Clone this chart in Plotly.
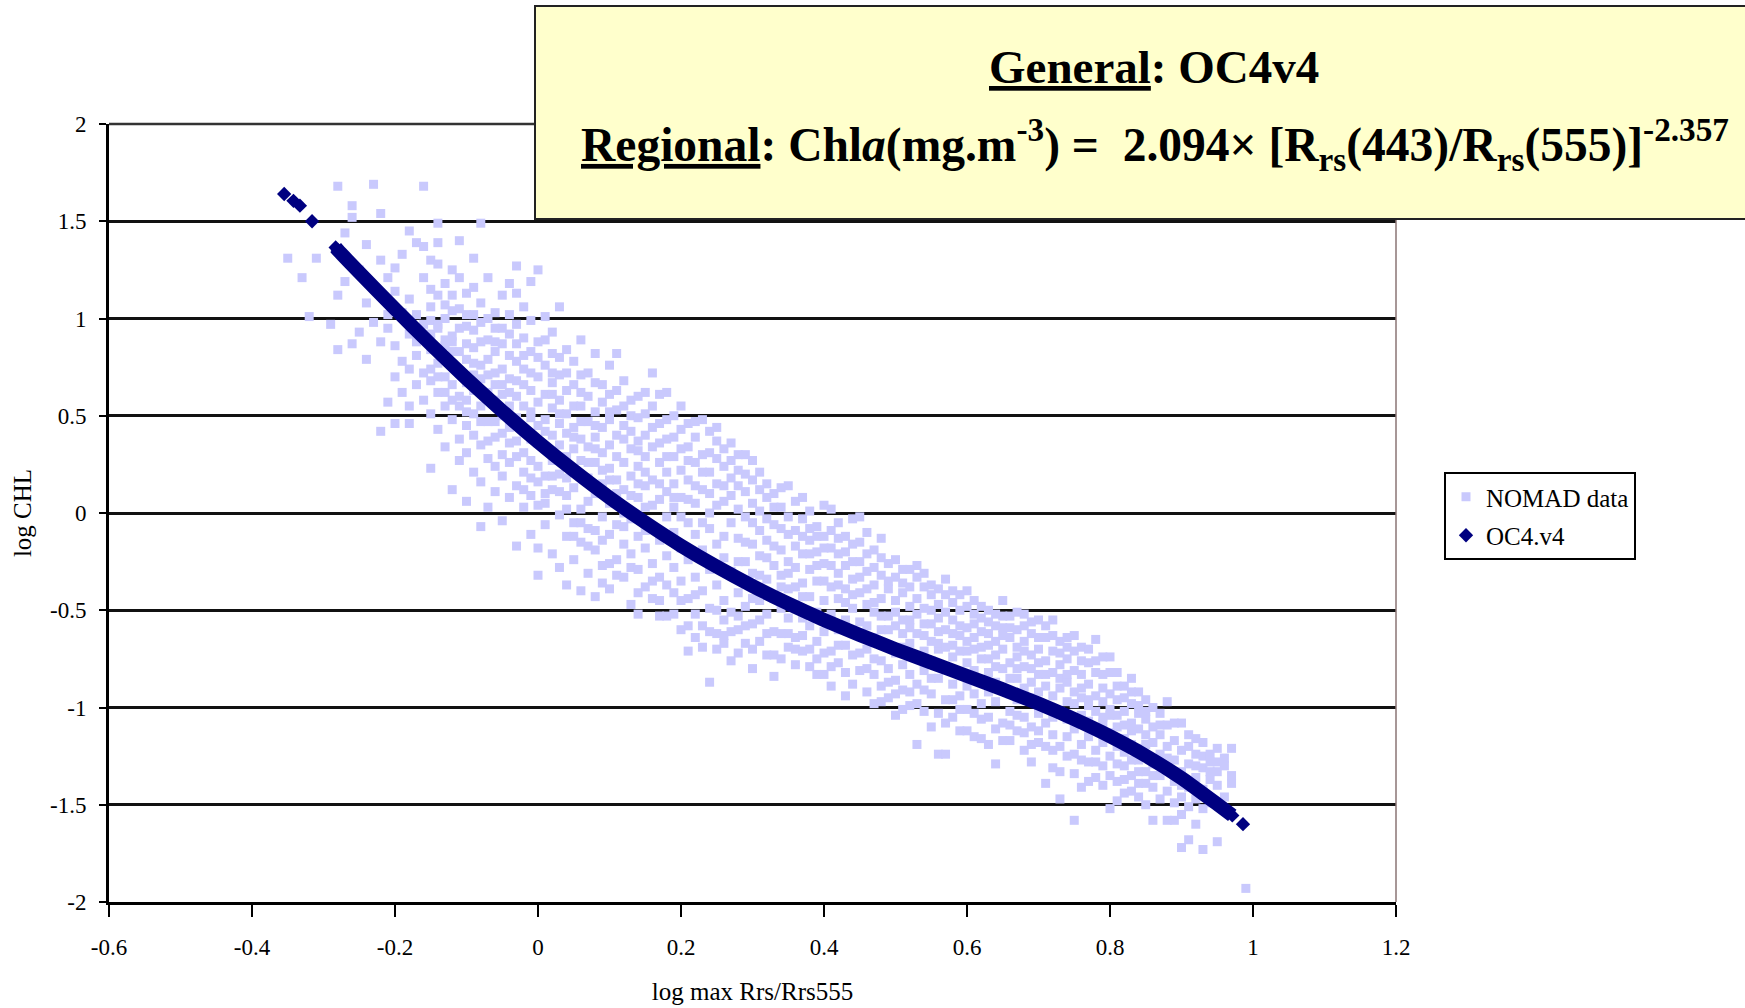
import plotly.graph_objects as go

# ---------------- data ----------------
# OC4.v4 model curve (log max Rrs/Rrs555 -> log CHL)
oc4_x = [-0.355, -0.342, -0.333, -0.316, -0.283, -0.28, -0.25, -0.20, -0.15, -0.10, -0.05,
         0.00, 0.05, 0.10, 0.15, 0.20, 0.25, 0.30, 0.35, 0.40, 0.45, 0.50, 0.55, 0.60,
         0.65, 0.70, 0.75, 0.80, 0.85, 0.90, 0.95, 0.971, 0.986]
oc4_y = [1.64, 1.605, 1.58, 1.50, 1.365, 1.352, 1.237, 1.049, 0.867, 0.691, 0.524,
         0.366, 0.218, 0.079, -0.049, -0.168, -0.276, -0.375, -0.466, -0.550, -0.627, -0.700, -0.769, -0.838,
         -0.907, -0.980, -1.060, -1.148, -1.248, -1.363, -1.497, -1.555, -1.600]
band_start, band_end = 4, 31   # continuous part of the OC4 curve (indices)

# NOMAD data: x columns and the log CHL values observed in each column
nomad_x_cols = [-0.36, -0.35, -0.34, -0.33, -0.32, -0.31, -0.30, -0.29, -0.28, -0.27,
                -0.26, -0.25, -0.24, -0.23, -0.22, -0.21, -0.20, -0.19, -0.18, -0.17,
                -0.16, -0.15, -0.14, -0.13, -0.12, -0.11, -0.10, -0.09, -0.08, -0.07,
                -0.06, -0.05, -0.04, -0.03, -0.02, -0.01, 0.00, 0.01, 0.02, 0.03,
                0.04, 0.05, 0.06, 0.07, 0.08, 0.09, 0.10, 0.11, 0.12, 0.13,
                0.14, 0.15, 0.16, 0.17, 0.18, 0.19, 0.20, 0.21, 0.22, 0.23,
                0.24, 0.25, 0.26, 0.27, 0.28, 0.29, 0.30, 0.31, 0.32, 0.33,
                0.34, 0.35, 0.36, 0.37, 0.38, 0.39, 0.40, 0.41, 0.42, 0.43,
                0.44, 0.45, 0.46, 0.47, 0.48, 0.49, 0.50, 0.51, 0.52, 0.53,
                0.54, 0.55, 0.56, 0.57, 0.58, 0.59, 0.60, 0.61, 0.62, 0.63,
                0.64, 0.65, 0.66, 0.67, 0.68, 0.69, 0.70, 0.71, 0.72, 0.73,
                0.74, 0.75, 0.76, 0.77, 0.78, 0.79, 0.80, 0.81, 0.82, 0.83,
                0.84, 0.85, 0.86, 0.87, 0.88, 0.89, 0.90, 0.91, 0.92, 0.93,
                0.94, 0.95, 0.96, 0.97, 0.98, 0.99]
nomad_y_cols = [
    [], [1.31], [], [1.21], [1.01], [1.31], [], [0.97], [1.68, 1.12, 0.84], [1.19, 1.44],
    [1.58, 0.87, 1.52], [0.93, 1.25], [1.38, 0.79, 1.08], [1.69, 1.16, 0.98],
    [1.54, 0.42, 1.30, 0.88], [0.57, 1.21, 0.95, 1.02], [0.70, 0.46, 1.14, 0.86, 1.26],
    [1.03, 0.78, 0.62, 1.33], [1.45, 0.55, 0.46, 0.92, 1.10, 0.74], [1.39, 0.88, 0.66, 1.02, 0.81],
    [1.37, 1.68, 0.97, 0.72, 0.58, 1.21],
    [1.30, 0.84, 0.51, 0.23, 1.06, 0.68, 0.92, 0.99, 0.74, 1.15],
    [1.39, 1.49, 0.77, 0.62, 1.12, 0.43, 0.97, 0.95, 0.70, 1.28],
    [1.18, 0.89, 0.55, 0.34, 1.00, 0.70, 1.07, 0.62, 0.86],
    [0.12, 0.48, 0.83, 1.25, 0.66, 1.04, 0.91, 0.88, 0.58, 1.12],
    [1.40, 1.21, 0.60, 0.38, 0.95, 0.73, 0.27, 0.83, 0.55, 1.05],
    [0.06, 0.52, 0.87, 1.13, 0.45, 0.79, 1.02, 0.31, 0.96, 0.58, 0.67],
    [1.31, 1.16, 0.63, 0.40, 0.21, 0.94, 0.71, 0.85, 0.77, 0.51, 1.02],
    [1.49, -0.07, 0.55, 0.98, 0.35, 0.76, 1.08, 0.16, 0.88, 0.47, 0.69],
    [0.62, 0.28, 0.89, 1.21, 0.47, 0.03, 0.71, 1.00, 0.37, 0.79],
    [0.58, 0.83, 0.11, 0.39, 1.03, 0.66, 0.24, 0.95, 0.72, 0.47, 0.88],
    [0.74, 0.30, 1.12, 0.50, -0.04, 0.87, 0.19, 0.61, 0.95, 0.41, 0.66],
    [0.44, 0.92, 0.08, 0.69, 1.18, 0.26, 0.55, 0.81, 0.36, 0.62, 1.02],
    [1.27, 1.13, 0.37, 0.60, -0.17, 0.14, 0.78, 0.49, 0.97, 0.68, 0.29, 0.87],
    [0.21, 0.66, 0.90, 0.03, 0.42, 1.06, 0.74, 0.31, 0.55, 0.12, 0.81],
    [1.19, 0.52, -0.11, 0.27, 0.83, 0.09, 0.63, 0.38, 0.99, 0.72, 0.18, 0.49],
    [1.25, 0.88, -0.18, 0.16, 0.45, 0.70, -0.32, 0.57, 0.24, 0.36, 0.80, 0.04],
    [0.05, 0.33, 0.76, 1.01, 0.48, -0.06, 0.61, 0.19, 0.89, 0.42, 0.10],
    [0.93, 0.12, 0.40, -0.21, 0.67, 0.27, 0.82, 0.54, 0.61, 0.19, 0.72],
    [1.06, 0.71, -0.01, 0.35, 0.20, -0.28, 0.58, 0.46, 0.11, 0.80, 0.51],
    [0.84, 0.09, 0.51, -0.37, 0.29, 0.63, -0.12, 0.41, 0.18, 0.72, 0.02],
    [0.78, 0.22, -0.05, 0.44, 0.66, -0.24, 0.33, 0.13, 0.55, -0.12, 0.39],
    [0.89, 0.55, 0.02, -0.40, 0.27, 0.38, -0.15, 0.71, 0.47, -0.05, 0.62],
    [0.47, 0.18, -0.31, 0.60, -0.08, 0.34, 0.06, 0.72, 0.26, -0.17],
    [0.82, 0.26, -0.43, 0.52, 0.10, -0.19, 0.39, 0.67, 0.33, -0.09, 0.45],
    [0.57, -0.02, 0.31, -0.27, 0.15, 0.44, -0.36, 0.66, 0.22, -0.14],
    [0.76, 0.23, -0.39, 0.48, -0.11, 0.05, 0.35, 0.61, 0.17, -0.26, 0.52],
    [0.82, 0.40, -0.06, 0.17, -0.24, 0.53, 0.29, 0.63, 0.10, -0.32],
    [0.12, -0.33, 0.45, -0.16, 0.26, 0.68, 0.00, 0.38, -0.07, 0.55],
    [0.58, 0.33, -0.47, -0.03, 0.19, -0.21, 0.42, 0.50, 0.09, -0.28],
    [0.60, -0.52, 0.08, 0.37, -0.29, -0.12, 0.24, 0.49, 0.15, -0.41, 0.32],
    [0.29, -0.38, 0.51, 0.03, -0.18, 0.14, 0.40, 0.62, -0.09, 0.21],
    [0.72, 0.17, -0.44, -0.08, 0.34, -0.26, 0.55, 0.44, 0.04, -0.35],
    [0.46, -0.14, 0.07, -0.53, 0.26, -0.33, 0.61, 0.36, -0.45, 0.15],
    [0.62, 0.21, -0.53, -0.02, 0.38, -0.22, 0.11, 0.29, -0.37, 0.48],
    [0.50, -0.41, 0.03, -0.28, 0.29, 0.15, -0.10, 0.39, -0.52, 0.08],
    [0.43, -0.60, 0.08, -0.35, 0.22, -0.18, 0.55, 0.33, -0.45, -0.02],
    [-0.71, 0.34, -0.05, -0.44, 0.17, -0.24, 0.46, 0.07, -0.58, 0.27],
    [0.26, -0.52, 0.39, -0.11, -0.33, 0.05, -0.64, 0.14, -0.42, 0.47],
    [0.48, -0.19, 0.12, -0.58, 0.30, -0.40, 0.21, -0.69, -0.05],
    [-0.87, 0.42, -0.29, 0.00, -0.49, 0.21, -0.08, 0.31, -0.61, 0.10],
    [0.37, -0.62, 0.15, -0.37, 0.28, -0.16, -0.70, 0.04, -0.50, 0.44],
    [-0.67, 0.24, -0.45, 0.06, -0.23, 0.33, -0.55, 0.14, -0.12, -0.63],
    [0.18, -0.30, -0.76, 0.09, -0.51, 0.27, 0.36, -0.05, -0.61],
    [0.30, -0.13, -0.60, 0.02, -0.41, 0.14, -0.72, -0.25, 0.22, -0.53],
    [-0.67, 0.20, -0.25, -0.48, -0.02, 0.11, -0.36, 0.30, -0.15, -0.58],
    [0.27, -0.57, 0.05, -0.31, -0.80, -0.16, 0.17, -0.05, -0.44, -0.70],
    [-0.09, -0.45, 0.12, -0.66, -0.22, 0.21, 0.01, -0.32, -0.55],
    [0.08, -0.73, -0.34, -0.14, -0.52, 0.15, -0.03, -0.62, -0.23],
    [-0.84, -0.27, -0.06, -0.61, 0.10, -0.44, -0.17, -0.73, 0.03],
    [0.03, -0.49, -0.19, -0.75, -0.32, 0.13, -0.08, -0.62, -0.38],
    [0.14, -0.39, -0.62, -0.11, -0.25, -0.69, -0.02, -0.54, -0.31],
    [-0.64, 0.06, -0.28, -0.47, -0.17, -0.78, -0.09, -0.38, -0.70],
    [0.08, -0.54, -0.21, -0.71, -0.36, -0.03, -0.12, -0.63, -0.43],
    [-0.79, -0.14, -0.43, -0.58, -0.29, 0.01, -0.21, -0.70, -0.08],
    [-0.07, -0.66, -0.35, -0.51, -0.20, -0.83, -0.27, -0.75, -0.12],
    [0.04, -0.83, -0.26, -0.45, -0.61, -0.12, -0.18, -0.72, -0.35],
    [-0.18, -0.71, -0.38, -0.52, 0.02, -0.89, -0.09, -0.27, -0.79],
    [-0.05, -0.60, -0.31, -0.77, -0.44, -0.21, -0.13, -0.68, -0.37],
    [-0.94, -0.27, -0.55, -0.12, -0.68, -0.39, -0.20, -0.82, -0.46],
    [-0.88, -0.16, -0.49, -0.73, -0.34, -0.03, -0.25, -0.61, -0.42],
    [-0.02, -0.62, -0.41, -0.81, -0.25, -0.56, -0.15, -0.72, -0.33],
    [-0.10, -0.70, -0.30, -0.92, -0.47, -0.58, -0.21, -0.80, -0.39],
    [-0.37, -0.83, -0.19, -0.64, -0.51, -0.98, -0.28, -0.75, -0.46],
    [-0.23, -0.76, -0.44, -0.60, -0.89, -0.32, -0.13, -0.53, -0.97],
    [-0.26, -0.68, -0.53, -0.95, -0.39, -0.80, -0.35, -0.60, -0.87],
    [-0.33, -1.04, -0.58, -0.72, -0.45, -0.86, -0.24, -0.51, -0.93],
    [-0.41, -0.62, -0.91, -0.78, -0.36, -0.55, -0.29, -0.69, -1.01],
    [-0.29, -0.99, -0.67, -0.48, -0.83, -0.59, -0.38, -0.92, -0.55],
    [-1.19, -0.33, -0.74, -0.52, -0.88, -0.44, -0.27, -0.62, -0.98],
    [-0.38, -0.81, -0.63, -1.02, -0.49, -0.71, -0.31, -0.57, -0.91],
    [-0.42, -0.93, -0.57, -0.76, -0.66, -1.10, -0.50, -0.85, -0.37],
    [-0.47, -0.70, -1.24, -0.85, -0.54, -0.61, -0.39, -1.03, -0.67],
    [-0.42, -0.96, -0.60, -0.79, -0.51, -1.24, -0.34, -0.69, -1.08],
    [-0.55, -0.88, -0.68, -1.05, -0.46, -0.74, -0.40, -0.62, -0.96],
    [-0.63, -1.12, -0.50, -0.83, -0.71, -0.94, -0.42, -1.01, -0.58],
    [-0.48, -0.77, -1.01, -0.59, -0.89, -0.66, -0.40, -0.71, -1.12],
    [-0.57, -0.93, -0.70, -1.15, -0.81, -0.52, -0.45, -0.64, -1.03],
    [-0.61, -1.06, -0.75, -0.86, -0.54, -0.98, -0.48, -0.69, -1.16],
    [-0.50, -0.82, -1.19, -0.68, -0.92, -0.62, -0.56, -0.75, -1.05],
    [-0.73, -1.29, -0.58, -0.97, -0.87, -0.66, -0.52, -0.79, -1.11],
    [-0.59, -0.91, -0.70, -1.08, -0.80, -0.53, -0.63, -1.17, -0.45],
    [-0.53, -1.02, -0.77, -0.64, -0.93, -1.17, -0.59, -0.85, -1.09],
    [-0.69, -0.85, -1.12, -0.60, -0.96, -0.74, -0.51, -1.04, -0.80],
    [-0.58, -1.05, -0.79, -0.90, -1.22, -0.66, -0.71, -1.13, -0.52],
    [-0.73, -0.95, -1.28, -0.62, -0.87, -1.10, -0.56, -0.80, -1.19],
    [-0.55, -0.83, -1.18, -0.70, -1.03, -0.92, -0.64, -1.12, -0.77],
    [-0.64, -1.39, -0.89, -0.76, -1.08, -0.99, -0.58, -0.83, -1.20],
    [-0.55, -0.94, -0.71, -1.14, -1.31, -0.82, -0.63, -1.05, -1.22],
    [-1.47, -0.78, -1.02, -0.66, -0.90, -1.20, -0.72, -0.85, -1.33],
    [-0.64, -0.87, -1.25, -1.06, -0.75, -0.97, -0.69, -1.15, -0.83],
    [-0.71, -1.11, -0.92, -1.58, -0.81, -1.34, -0.63, -0.98, -1.24],
    [-0.83, -1.04, -0.69, -1.19, -0.95, -1.41, -0.76, -1.27, -0.90],
    [-0.77, -1.28, -0.88, -1.07, -0.99, -1.15, -0.70, -0.96, -1.38],
    [-0.65, -0.94, -1.22, -0.82, -1.12, -1.36, -0.76, -1.02, -1.28],
    [-0.90, -1.05, -0.74, -1.30, -1.18, -0.97, -0.83, -1.40, -1.08],
    [-0.82, -1.52, -1.01, -0.93, -1.25, -1.13, -0.74, -1.04, -1.35],
    [-0.82, -1.10, -1.38, -0.96, -1.20, -1.04, -0.89, -1.29, -1.48],
    [-0.89, -1.16, -1.30, -1.02, -1.44, -1.23, -0.95, -1.09, -1.37],
    [-0.85, -1.08, -1.27, -0.98, -1.35, -1.19, -0.92, -1.43, -1.12],
    [-0.92, -1.21, -1.46, -1.11, -1.03, -1.33, -0.99, -1.39, -1.27],
    [-0.96, -1.14, -1.39, -1.26, -1.06, -1.50, -1.02, -1.33, -1.19],
    [-1.00, -1.29, -1.58, -1.18, -1.41, -1.10, -1.35],
    [-1.03, -1.24, -1.35, -1.47, -1.14, -1.09],
    [-0.97, -1.58, -1.20, -1.31, -1.43, -1.09, -1.26],
    [-1.08, -1.27, -1.58, -1.38, -1.17, -1.49],
    [-1.08, -1.72, -1.33, -1.46, -1.22, -1.55, -1.40],
    [-1.68, -1.14, -1.41, -1.29, -1.51, -1.20],
    [-1.16, -1.36, -1.47, -1.24, -1.60, -1.30],
    [-1.18, -1.73, -1.42, -1.31, -1.52, -1.25],
    [-1.24, -1.37, -1.49, -1.28, -1.33],
    [-1.21, -1.40, -1.69, -1.33, -1.28],
    [-1.30, -1.46, -1.26], [-1.21, -1.39, -1.35], [], [-1.93],
]
assert len(nomad_x_cols) == len(nomad_y_cols)

x_tickvals = [-0.6, -0.4, -0.2, 0, 0.2, 0.4, 0.6, 0.8, 1, 1.2]
x_ticktext = ["-0.6", "-0.4", "-0.2", "0", "0.2", "0.4", "0.6", "0.8", "1", "1.2"]
y_tickvals = [-2, -1.5, -1, -0.5, 0, 0.5, 1, 1.5, 2]
y_ticktext = ["-2", "-1.5", "-1", "-0.5", "0", "0.5", "1", "1.5", "2"]

# ---------------- figure ----------------
nomad_x, nomad_y = [], []
for xc, ys in zip(nomad_x_cols, nomad_y_cols):
    for yv in ys:
        nomad_x.append(xc)
        nomad_y.append(yv)

FONT = "Liberation Serif"
NAVY = "#000080"

fig = go.Figure()
fig.add_trace(go.Scatter(
    x=nomad_x, y=nomad_y, mode="markers", name="NOMAD data", legendgroup="a",
    marker=dict(symbol="square", size=9, color="#c9c9fd", line=dict(width=0)),
))
fig.add_trace(go.Scatter(
    x=oc4_x[band_start:band_end + 1], y=oc4_y[band_start:band_end + 1],
    mode="lines", line=dict(color=NAVY, width=14, shape="spline", smoothing=0.5),
    showlegend=False, hoverinfo="skip",
))
fig.add_trace(go.Scatter(
    x=oc4_x, y=oc4_y, mode="markers", name="OC4.v4", legendgroup="b",
    marker=dict(symbol="diamond", size=11, color=NAVY, line=dict(width=0)),
))

L, R, T, B = 109, 349, 124, 106
W, H = 1745, 1008
pw, ph = W - L - R, H - T - B

def px(xp):
    return (xp - L) / pw

def py(yp):
    return (H - B - yp) / ph

fig.update_layout(
    width=W, height=H,
    margin=dict(l=L, r=R, t=T, b=B, pad=0, autoexpand=False),
    paper_bgcolor="white", plot_bgcolor="white",
    font=dict(family=FONT, color="black"),
    showlegend=True,
    legend=dict(
        x=px(1444), y=py(472), xanchor="left", yanchor="top",
        bgcolor="white", bordercolor="black", borderwidth=2,
        font=dict(family=FONT, size=25, color="black"),
        itemwidth=30, traceorder="grouped", tracegroupgap=3,
    ),
    xaxis=dict(
        range=[-0.6, 1.2], tickvals=x_tickvals, ticktext=x_ticktext,
        showgrid=False, zeroline=False, automargin=False,
        showline=True, linecolor="black", linewidth=3,
        ticks="outside", ticklen=12, tickwidth=2, tickcolor="black",
        tickfont=dict(family=FONT, size=23, color="black"),
        ticklabelstandoff=10,
        title=dict(text="log max Rrs/Rrs555", font=dict(family=FONT, size=25, color="black"), standoff=24),
    ),
    yaxis=dict(
        range=[-2, 2], tickvals=y_tickvals, ticktext=y_ticktext,
        showgrid=True, gridcolor="#111111", gridwidth=2.5, zeroline=False, automargin=False,
        showline=True, linecolor="black", linewidth=3,
        ticks="outside", ticklen=7, tickwidth=2, tickcolor="black",
        tickfont=dict(family=FONT, size=23, color="black"),
        ticklabelstandoff=8,
        title=dict(text="log CHL", font=dict(family=FONT, size=25, color="black"), standoff=12),
    ),
    shapes=[
        dict(type="line", xref="paper", yref="paper", x0=1, x1=1, y0=0, y1=1,
             line=dict(color="#8a7474", width=1.5), layer="above"),
        dict(type="line", xref="paper", yref="paper", x0=0, x1=1, y0=1, y1=1,
             line=dict(color="#333333", width=2.5), layer="above"),
        dict(type="rect", xref="paper", yref="paper",
             x0=px(535), x1=px(1760), y0=py(219), y1=py(6),
             fillcolor="#ffffcc", line=dict(color="#222222", width=2), layer="above"),
    ],
    annotations=[
        dict(xref="paper", yref="paper", x=px(1154), y=py(67), xanchor="center", yanchor="middle",
             showarrow=False, font=dict(family=FONT, size=47, color="black"),
             text="<b><u>General</u>: OC4v4</b>"),
        dict(xref="paper", yref="paper", x=px(1155), y=py(144), xanchor="center", yanchor="middle",
             showarrow=False, font=dict(family=FONT, size=47.5, color="black"),
             text="<b><u>Regional</u>: Chl<i>a</i>(mg.m<sup>-3</sup>) =\u00a0\u00a02.094\u00d7 "
                  "[R<sub>rs</sub>(443)/R<sub>rs</sub>(555)]<sup>-2.357</sup></b>"),
    ],
    hovermode=False,
)

fig.write_html("out.html", config={"displayModeBar": False})
